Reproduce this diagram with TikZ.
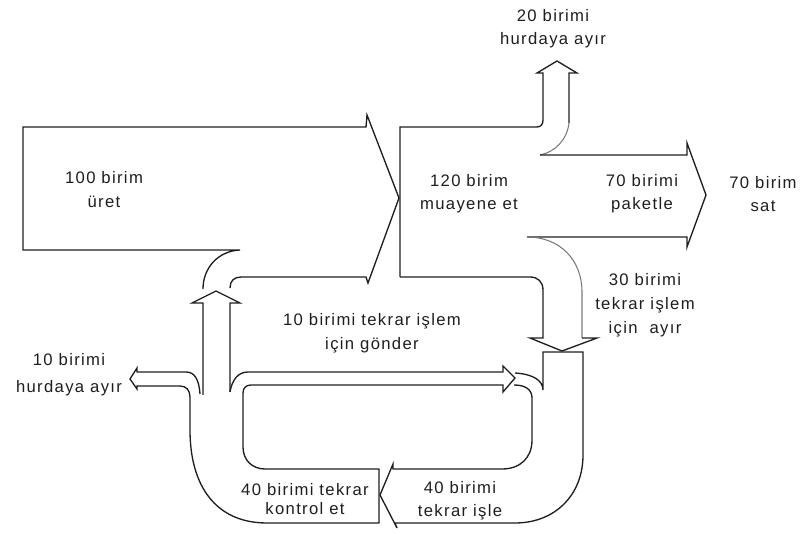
\documentclass[tikz,border=0pt]{standalone}
\usepackage{fontspec}
\newfontfamily\lblfont{Liberation Sans}[LetterSpace=8]
\usepackage{xcolor}
\definecolor{inkdark}{HTML}{1E1E1E}
\definecolor{inklight}{HTML}{7A7A7A}
\usepackage{tikz}
\tikzset{
  band/.style ={draw=inkdark, line width=1pt, line join=miter},
  bandf/.style={draw=inklight, line width=0.8pt},
  lbl/.style  ={align=center, inner sep=0pt, text=inkdark, font=\lblfont\fontsize{12.5}{17}\selectfont},
}

\begin{document}
\begin{tikzpicture}[x=0.75pt, y=-0.75pt]
  \useasboundingbox (0,0) rectangle (803,534);

  % production arrow and returning flow
  \draw[band] (241,277) -- (366,277) -- (368,283) -- (399,198) -- (367,115) -- (366,127) -- (23,127) -- (23,250) -- (240,250)
        .. controls (218,251) and (203,268) .. (203,289);
  \draw[band] (230,288) .. controls (230,281) and (234,277) .. (241,277);
  \draw[band] (203,395) -- (203,303) -- (192,303) -- (216,291) -- (240,303) -- (230,303) -- (230,392);

  % check loop, scrap and send-back
  \draw[band] (200,394) .. controls (199,380) and (195,372) .. (186,372) -- (137,372) -- (137,368) -- (130,379) -- (137,389) -- (137,386)
        -- (180,386) .. controls (186,386) and (190,390) .. (190,397) -- (190,430) .. controls (190,485) and (215,523) .. (267,523)
        -- (379,523) -- (379,469) -- (265,469) .. controls (252,469) and (243,460) .. (243,447) -- (243,393)
        .. controls (243,388) and (246,385) .. (251,385) -- (503,385) -- (503,392) -- (515,378) -- (503,366) -- (503,372)
        -- (248,372) .. controls (238,372) and (232,380) .. (230,392);

  % rework box and its output
  \draw[band] (515,373) .. controls (532,374) and (543,380) .. (543,390) -- (543,352) -- (583,352) -- (583,455)
        .. controls (583,495) and (555,523) .. (515,523) -- (395,523) -- (397,528) -- (380,495) -- (393,464) -- (393,469)
        -- (502,469) .. controls (520,469) and (532,458) .. (532,440) -- (532,398) .. controls (532,390) and (526,385) .. (514,385);

  % inspection and outputs
  \draw[band] (400,277) -- (400,127) -- (537,127) .. controls (541,127) and (543,124) .. (543,120) -- (543,73) -- (537,73)
        -- (557,61) -- (577,73) -- (569,73) -- (569,123);
  \draw[bandf] (569,123) .. controls (567,140) and (555,152) .. (540,155);
  \draw[band] (540,155) -- (687,155) -- (687,143) -- (706,195) -- (687,247) -- (687,237) -- (527,237);
  \draw[bandf] (527,237) .. controls (560,237) and (582,260) .. (582,292) -- (582,338);
  \draw[band] (400,277) -- (530,277) .. controls (538,277) and (543,282) .. (543,290) -- (543,338) -- (530,338) -- (562,351)
        -- (597,338) -- (582,338);

  % labels
  \node[lbl] (scrap20) at (553,29)  {20 birimi\\hurdaya ayır};
  \node[lbl] (make)    at (104,190) {100 birim\\[1pt]üret};
  \node[lbl] (inspect) at (469,194) {120 birim\\muayene et};
  \node[lbl] (pack)    at (642,194) {70 birimi\\paketle};
  \node[lbl] (sell)    at (763,194) {70 birim\\sat};
  \node[lbl] (split30) at (645,305) {30 birimi\\[1pt]tekrar işlem\\[1pt]için\ \ ayır};
  \node[lbl] (send10)  at (372,333) {10 birimi tekrar işlem\\[1pt]için gönder};
  \node[lbl] (scrap10) at (69,375)  {10 birimi\\[3pt]hurdaya ayır};
  \node[lbl] (check40) at (305,499) {40 birimi tekrar\\[-3pt]kontrol et};
  \node[lbl] (redo40)  at (460,501) {40 birimi\\tekrar işle};
\end{tikzpicture}
\end{document}
